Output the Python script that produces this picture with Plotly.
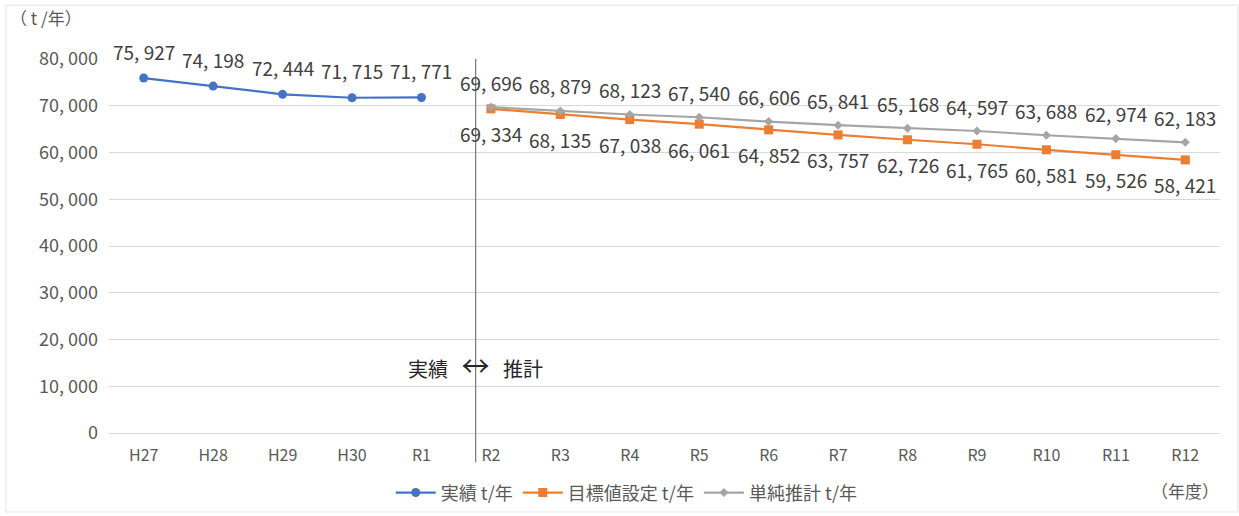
import plotly.graph_objects as go

categories = ["H27", "H28", "H29", "H30", "R1", "R2", "R3", "R4", "R5", "R6",
              "R7", "R8", "R9", "R10", "R11", "R12"]
actual_cats = ["H27", "H28", "H29", "H30", "R1"]
actual_vals = [75927, 74198, 72444, 71715, 71771]
future_cats = ["R2", "R3", "R4", "R5", "R6", "R7", "R8", "R9", "R10", "R11", "R12"]
target_vals = [69334, 68135, 67038, 66061, 64852, 63757, 62726, 61765, 60581, 59526, 58421]
simple_vals = [69696, 68879, 68123, 67540, 66606, 65841, 65168, 64597, 63688, 62974, 62183]
y_ticks = [0, 10000, 20000, 30000, 40000, 50000, 60000, 70000, 80000]

def fmt(v):
    return "{:,}".format(v).replace(",", ", ")

FONT = "Noto Sans CJK JP"
BLUE = "#4472C4"
ORANGE = "#ED7D31"
GRAY = "#A5A5A5"
TXT = "#404040"
LBL = 19

fig = go.Figure()
fig.add_trace(go.Scatter(x=actual_cats, y=actual_vals, mode="lines+markers",
                         name="実績 t/年", line=dict(color=BLUE, width=2.2),
                         marker=dict(symbol="circle", size=9, color=BLUE)))
fig.add_trace(go.Scatter(x=future_cats, y=target_vals, mode="lines+markers",
                         name="目標値設定 t/年", line=dict(color=ORANGE, width=2.2),
                         marker=dict(symbol="square", size=9, color=ORANGE)))
fig.add_trace(go.Scatter(x=future_cats, y=simple_vals, mode="lines+markers",
                         name="単純推計 t/年", line=dict(color=GRAY, width=2.2),
                         marker=dict(symbol="diamond", size=7, color=GRAY)))

annos = []
for c, v in zip(actual_cats, actual_vals):
    annos.append(dict(x=c, y=v, text=fmt(v), showarrow=False, yshift=27,
                      font=dict(family=FONT, size=LBL, color=TXT)))
for c, v in zip(future_cats, simple_vals):
    annos.append(dict(x=c, y=v, text=fmt(v), showarrow=False, yshift=25,
                      font=dict(family=FONT, size=LBL, color=TXT)))
for c, v in zip(future_cats, target_vals):
    annos.append(dict(x=c, y=v, text=fmt(v), showarrow=False, yshift=-25,
                      font=dict(family=FONT, size=LBL, color=TXT)))

annos.append(dict(xref="paper", yref="paper", x=-0.091, y=1.11, xanchor="left",
                  yanchor="middle", text="（ t /年）", showarrow=False,
                  font=dict(family=FONT, size=17, color="#595959")))
annos.append(dict(x="R12", yref="paper", y=-0.153, yanchor="middle",
                  text="（年度）", showarrow=False,
                  font=dict(family=FONT, size=17, color="#595959")))
annos.append(dict(x=4.78, y=14500, showarrow=False,
                  text="実績   <span style='font-size:28px'>↔</span>   推計",
                  font=dict(family=FONT, size=20, color="#262626")))

fig.add_shape(type="line", x0=4.78, x1=4.78, xref="x", yref="paper", y0=-0.078, y1=1.0,
              line=dict(color="#7F7F7F", width=1.3))
# faint chart frame
fig.add_shape(type="rect", xref="paper", yref="paper", x0=-0.0927, x1=1.016,
              y0=-0.211, y1=1.144, line=dict(color="#EDEDED", width=1.5), layer="below")

fig.update_layout(
    width=1239, height=516,
    margin=dict(l=109, r=19, t=59, b=83, autoexpand=False),
    paper_bgcolor="white", plot_bgcolor="white",
    font=dict(family=FONT, color="#595959"),
    showlegend=True,
    legend=dict(orientation="h", x=0.466, xanchor="center", y=-0.16, yanchor="middle",
                font=dict(family=FONT, size=18, color="#595959"), itemwidth=40),
    annotations=annos,
    xaxis=dict(type="category", categoryorder="array", categoryarray=categories,
               range=[-0.5, 15.5], showgrid=False, showline=True,
               linecolor="#D9D9D9", ticks="", tickfont=dict(size=16, color="#595959"),
               ticklabelstandoff=8),
    yaxis=dict(range=[0, 80000], tickvals=y_ticks, ticktext=[fmt(v) for v in y_ticks],
               showgrid=True, gridcolor="#D9D9D9", zeroline=False, showline=False,
               tickfont=dict(size=18, color="#595959"), ticklabelstandoff=10),
)

fig.write_html("out.html")
